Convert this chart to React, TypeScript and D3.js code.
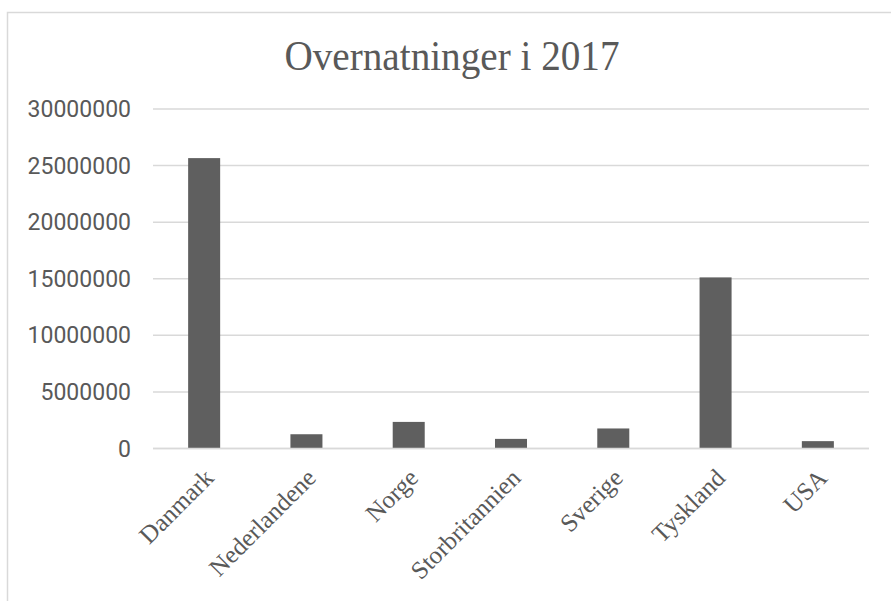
import React, { useEffect, useRef } from 'react';
import * as d3 from 'd3';

const title = 'Overnatninger i 2017';
const countries = ['Danmark', 'Nederlandene', 'Norge', 'Storbritannien', 'Sverige', 'Tyskland', 'USA'];
const nights = [25660000, 1260000, 2350000, 850000, 1770000, 15120000, 650000];
const yTicks = [0, 5000000, 10000000, 15000000, 20000000, 25000000, 30000000];

const W = 891;
const H = 601;

const App = () => {
  const ref = useRef<SVGGElement>(null);
  const margin = { top: 109, right: 22, bottom: 152.5, left: 153 };

  useEffect(() => {
    const g = d3.select(ref.current);
    g.selectAll('*').remove();

    const x = d3.scaleBand()
      .domain(countries)
      .range([margin.left, W - margin.right])
      .paddingInner(0.687)
      .paddingOuter(0.3435);

    const y = d3.scaleLinear()
      .domain([0, 30000000])
      .range([H - margin.bottom, margin.top]);

    // gridlines
    g.append('g')
      .selectAll('line')
      .data(yTicks)
      .join('line')
      .attr('x1', margin.left)
      .attr('x2', W - margin.right)
      .attr('y1', d => y(d))
      .attr('y2', d => y(d))
      .attr('stroke', '#d9d9d9')
      .attr('stroke-width', 1.5);

    // y tick labels
    g.append('g')
      .selectAll('text')
      .data(yTicks)
      .join('text')
      .attr('x', 131)
      .attr('y', d => y(d))
      .attr('dy', '0.35em')
      .attr('text-anchor', 'end')
      .attr('font-family', 'Roboto, sans-serif')
      .attr('font-size', 23)
      .attr('fill', '#595959')
      .text(d => String(d));

    // bars
    g.append('g')
      .selectAll('rect')
      .data(nights)
      .join('rect')
      .attr('x', (_, i) => x(countries[i]) as number)
      .attr('width', x.bandwidth())
      .attr('y', d => y(d))
      .attr('height', d => y(0) - y(d))
      .attr('fill', '#5f5f5f');

    // baseline over bars
    g.append('line')
      .attr('x1', margin.left)
      .attr('x2', W - margin.right)
      .attr('y1', y(0))
      .attr('y2', y(0))
      .attr('stroke', '#d9d9d9')
      .attr('stroke-width', 1.5);

    // category labels
    g.append('g')
      .selectAll('text')
      .data(countries)
      .join('text')
      .attr('transform', d => {
        const cx = (x(d) as number) + x.bandwidth() / 2 + 11;
        return `translate(${cx},${y(0) + 31}) rotate(-45)`;
      })
      .attr('text-anchor', 'end')
      .attr('font-family', '"Liberation Serif", serif')
      .attr('font-size', 25)
      .attr('fill', '#595959')
      .text(d => d);
  }, []);

  return (
    <svg width={W} height={H} style={{ position: 'absolute', left: 0, top: 0, background: '#fff' }}>
      <rect x={7.5} y={12.5} width={W} height={H} fill="#fff" stroke="#d9d9d9" strokeWidth={1.5} />
      <text
        x={452}
        y={70}
        textAnchor="middle"
        fontFamily='"Liberation Serif", serif'
        fontSize={42}
        fill="#595959"
        textLength={335}
        lengthAdjust="spacingAndGlyphs"
      >
        {title}
      </text>
      <g ref={ref} />
    </svg>
  );
};

export default App;
